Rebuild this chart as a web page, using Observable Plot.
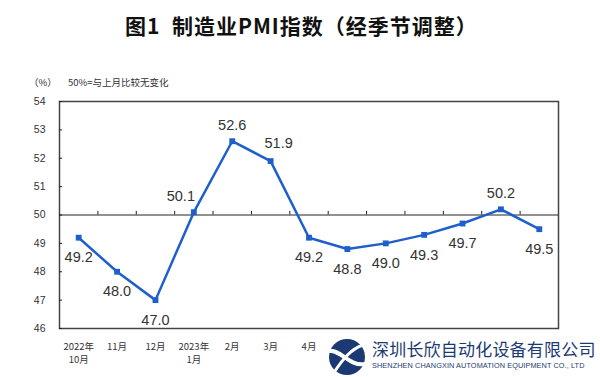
<!DOCTYPE html>
<html>
<head>
<meta charset="utf-8">
<script src="https://cdn.jsdelivr.net/npm/d3@7"></script>
<script src="https://cdn.jsdelivr.net/npm/@observablehq/plot@0.6"></script>
<style>
  html, body { margin: 0; padding: 0; background: #fff; }
  #wrap { position: relative; width: 600px; height: 377px; overflow: hidden; font-family: "Liberation Sans", "Noto Sans CJK SC", sans-serif; }
  #title { position: absolute; left: 125px; top: 10px; font-family: "Noto Sans CJK SC", sans-serif; font-weight: 700; font-size: 21px; letter-spacing: 1px; color: #111; white-space: pre; }
  .sub { position: absolute; top: 75px; font-family: "Noto Sans CJK SC", sans-serif; font-size: 9.5px; color: #333; }
  #chart { position: absolute; left: 0; top: 0; }
  #wm { position: absolute; left: 327px; top: 334px; width: 273px; height: 43px; background: #fff; }
  #wm .cn { position: absolute; left: 45px; top: 2px; font-family: "Noto Sans CJK SC", sans-serif; font-size: 17px; color: #1b3a73; letter-spacing: 0.2px; white-space: nowrap; }
  #wm .en { position: absolute; left: 45px; top: 27px; font-family: "Liberation Sans Narrow", "Liberation Sans", sans-serif; font-size: 7.3px; color: #1b3a73; white-space: nowrap; letter-spacing: 0.1px; }
  #wm svg { position: absolute; left: 0; top: 3px; }
</style>
</head>
<body>
<div id="wrap">
  <div id="chart"></div>
  <div id="title">图1  制造业PMI指数（经季节调整）</div>
  <div class="sub" style="left:29px">（%）</div>
  <div class="sub" style="left:68px">50%=与上月比较无变化</div>
  <div id="wm">
    <svg width="40" height="40" viewBox="0 0 40 40">
      <circle cx="20" cy="20" r="18" fill="#1b3a73"/>
      <path d="M2 14 C 14 12, 22 30, 38 27" stroke="#fff" stroke-width="4" fill="none"/>
      <path d="M8 34 C 16 22, 24 12, 36 8" stroke="#fff" stroke-width="3" fill="none"/>
    </svg>
    <div class="cn">深圳长欣自动化设备有限公司</div>
    <div class="en">SHENZHEN CHANGXIN AUTOMATION EQUIPMENT CO., LTD</div>
  </div>
</div>
<script>
const months = ["2022年\n10月", "11月", "12月", "2023年\n1月", "2月", "3月", "4月", "5月", "6月", "7月", "8月", "9月", "10月"];
const pmi = [49.2, 48.0, 47.0, 50.1, 52.6, 51.9, 49.2, 48.8, 49.0, 49.3, 49.7, 50.2, 49.5];
// labels above the point (true) or below (false)
const labelAbove = [false, false, false, true, true, true, false, false, false, false, false, true, false];
const yTicks = [46, 47, 48, 49, 50, 51, 52, 53, 54];
// month labels visible in the picture (the rest sit under the logo)
const visibleMonthCount = 7;

const data = pmi.map((v, i) => ({i, v, above: labelAbove[i], label: v.toFixed(1)}));
const bounds = d3.range(0.5, months.length - 1, 1);

const blue = "#1f5fcc";
const labelStyle = {fontSize: 14.5, fill: "#333"};
const plot = Plot.plot({
  width: 600,
  height: 377,
  marginTop: 101,
  marginBottom: 49,
  marginLeft: 59,
  marginRight: 42,
  style: {fontFamily: "Liberation Sans, sans-serif", background: "transparent"},
  x: {domain: [-0.5, months.length - 0.5], axis: null},
  y: {domain: [46, 54], axis: null},
  marks: [
    Plot.frame({stroke: "#444", strokeWidth: 1.5}),
    Plot.ruleY([50], {stroke: "#222", strokeWidth: 1}),
    Plot.ruleX(bounds, {x: d => d, y1: 50, y2: 50.13, stroke: "#222", strokeWidth: 1}),
    Plot.ruleY(yTicks, {y: d => d, x1: -0.5, x2: -0.42, stroke: "#222", strokeWidth: 1}),
    Plot.text(yTicks, {y: d => d, x: -0.5, text: d => String(d), dx: -14, textAnchor: "end", fontSize: 10.5, fill: "#333"}),
    Plot.text(months.slice(0, visibleMonthCount).map((m, i) => ({m, i})), {x: "i", y: 46, text: "m", dy: 12, lineAnchor: "top", fontSize: 9.5, fill: "#333", fontFamily: "Noto Sans CJK SC, sans-serif", lineHeight: 1.4}),
    Plot.line(data, {x: "i", y: "v", stroke: blue, strokeWidth: 2.5}),
    Plot.dot(data, {x: "i", y: "v", symbol: "square", r: 3.3, fill: blue, stroke: "none"}),
    Plot.text(data.filter(d => !d.above), {x: "i", y: "v", text: "label", dy: 20, ...labelStyle}),
    Plot.text(data.filter(d => d.above && d.i !== 3 && d.i !== 5), {x: "i", y: "v", text: "label", dy: -16, ...labelStyle}),
    Plot.text(data.filter(d => d.i === 3), {x: "i", y: "v", text: "label", dy: -16, dx: -13, ...labelStyle}),
    Plot.text(data.filter(d => d.i === 5), {x: "i", y: "v", text: "label", dy: -18, dx: 8, ...labelStyle})
  ]
});
document.getElementById("chart").appendChild(plot);
</script>
</body>
</html>
